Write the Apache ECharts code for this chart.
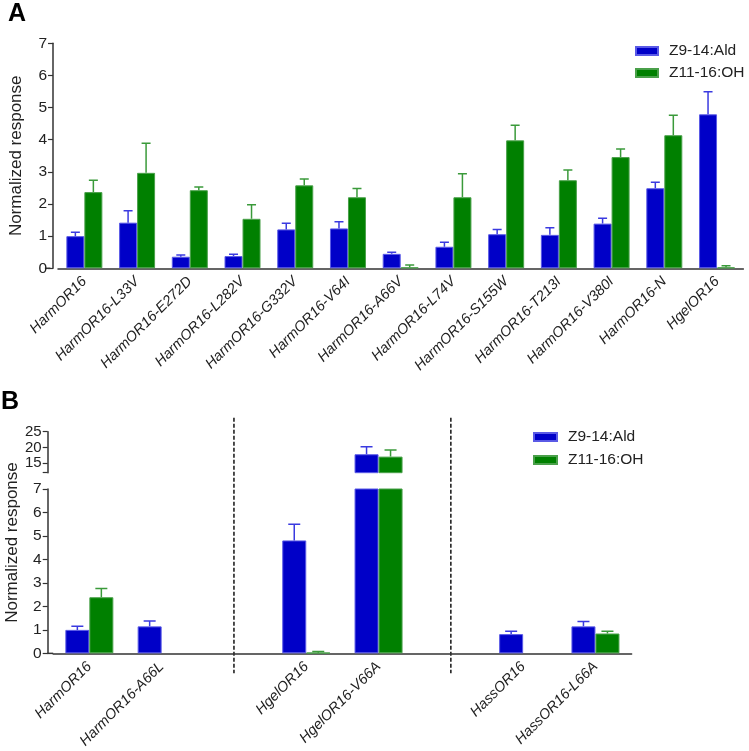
<!DOCTYPE html>
<html>
<head>
<meta charset="utf-8">
<script src="https://cdn.jsdelivr.net/npm/echarts@6/dist/echarts.min.js"></script>
<style>html,body{margin:0;padding:0;background:#fff}#c{width:749px;height:751px}</style>
</head>
<body>
<div id="c"></div>
<script>
// ---------- Data ----------
const seriesNames = ['Z9-14:Ald', 'Z11-16:OH'];

const categoriesA = ['HarmOR16','HarmOR16-L33V','HarmOR16-E272D','HarmOR16-L282V','HarmOR16-G332V','HarmOR16-V64I','HarmOR16-A66V','HarmOR16-L74V','HarmOR16-S155W','HarmOR16-T213I','HarmOR16-V380I','HarmOR16-N','HgelOR16'];
const aldA    = [1.00, 1.42, 0.36, 0.38, 1.21, 1.24, 0.45, 0.67, 1.06, 1.04, 1.39, 2.49, 4.79];
const aldErrA = [0.12, 0.37, 0.05, 0.06, 0.19, 0.21, 0.05, 0.14, 0.15, 0.22, 0.17, 0.19, 0.70];
const ohA     = [2.37, 2.97, 2.43, 1.54, 2.58, 2.21, 0.03, 2.21, 3.98, 2.74, 3.46, 4.14, 0.03];
const ohErrA  = [0.37, 0.92, 0.10, 0.44, 0.20, 0.27, 0.07, 0.73, 0.47, 0.32, 0.25, 0.62, 0.05];
const yTicksA = [0, 1, 2, 3, 4, 5, 6, 7];

const categoriesB = ['HarmOR16','HarmOR16-A66L',' ','HgelOR16','HgelOR16-V66A','  ','HassOR16','HassOR16-L66A'];
const gapIndexB   = [2, 5];
const aldB    = [1.00, 1.15, null, 4.81, 17.85, null, 0.82, 1.15];
const aldErrB = [0.15, 0.23, null, 0.69, 2.40,  null, 0.12, 0.21];
const ohB     = [2.39, null, null, 0.03, 17.10, null, null, 0.845];
const ohErrB  = [0.37, null, null, 0.05, 2.10,  null, null, 0.10];
const yLowB   = [0, 7];
const yHighB  = [12, 25];
const yHighLabelsB = [15, 20, 25];

// ---------- Styles ----------
const BLUE = '#0000C8', GREEN = '#008000';
const BLUE_ERR = '#3a3ae0', GREEN_ERR = '#3a9a3a';
const TXT = '#222';
const FONT = 'Liberation Sans, Arial, sans-serif';

const chart = echarts.init(document.getElementById('c'), null, {renderer: 'canvas'});

function errSeries(name, xi, yi, means, errs, sideSign, barW, capW, color) {
  const data = means.map((m, i) => (m == null || errs[i] == null) ? null : [i, m + errs[i], m]);
  return {
    type: 'custom', name: name, xAxisIndex: xi, yAxisIndex: yi, clip: true, z: 5,
    silent: true,
    data: data.filter(d => d),
    renderItem: function (params, api) {
      const i = api.value(0);
      const top = api.coord([i, api.value(1)]);
      const base = api.coord([i, api.value(2)]);
      const x = top[0] + sideSign * barW / 2;
      return {
        type: 'group',
        children: [
          {type: 'line', shape: {x1: x, y1: base[1], x2: x, y2: top[1]}, style: {stroke: color, lineWidth: 1.5}},
          {type: 'line', shape: {x1: x - capW / 2, y1: top[1], x2: x + capW / 2, y2: top[1]}, style: {stroke: color, lineWidth: 1.5}}
        ]
      };
    }
  };
}

function barSeries(name, xi, yi, data, color, border, w) {
  return {
    type: 'bar', name: name, xAxisIndex: xi, yAxisIndex: yi, data: data,
    barWidth: w, barGap: '0%',
    itemStyle: {color: color, borderColor: border, borderWidth: 1},
    emphasis: {disabled: true}
  };
}

const catAxisCommon = {
  type: 'category',
  axisLine: {lineStyle: {color: '#333', width: 1.5}},
  axisTick: {alignWithLabel: true, length: 5, lineStyle: {color: '#333', width: 1.2}},
  axisLabel: {rotate: 45, interval: 0, margin: 11, color: TXT, fontSize: 14.5, fontStyle: 'italic', fontFamily: FONT}
};
const valAxisCommon = {
  type: 'value',
  splitLine: {show: false},
  axisLine: {show: true, lineStyle: {color: '#333', width: 1.5}},
  axisTick: {show: true, length: 5, lineStyle: {color: '#333', width: 1.2}},
  axisLabel: {color: TXT, fontSize: 15.5, fontFamily: FONT, margin: 6}
};

const option = {
  animation: false,
  backgroundColor: '#fff',
  textStyle: {fontFamily: FONT},
  grid: [
    {left: 50.4, top: 43.3, width: 693, height: 225},
    {left: 53.2, top: 489, width: 578.4, height: 167.2},
    {left: 53.2, top: 431.7, width: 578.4, height: 41}
  ],
  legend: [
    {data: seriesNames, orient: 'vertical', left: 630, top: 38, itemWidth: 22, itemHeight: 8, itemGap: 6,
     icon: 'rect', textStyle: {fontSize: 15.5, color: TXT, fontFamily: FONT, padding: [0, 0, 0, 6]}, selectedMode: false},
    {data: seriesNames, orient: 'vertical', left: 528, top: 424, itemWidth: 23, itemHeight: 8, itemGap: 7,
     icon: 'rect', textStyle: {fontSize: 15.5, color: TXT, fontFamily: FONT, padding: [0, 0, 0, 6]}, selectedMode: false}
  ],
  xAxis: [
    Object.assign({}, catAxisCommon, {gridIndex: 0, data: categoriesA}),
    Object.assign({}, catAxisCommon, {gridIndex: 1, data: categoriesB,
      axisTick: Object.assign({}, catAxisCommon.axisTick, {interval: function (i) { return gapIndexB.indexOf(i) < 0; }})}),
    {type: 'category', gridIndex: 2, data: categoriesB, show: false}
  ],
  yAxis: [
    Object.assign({}, valAxisCommon, {gridIndex: 0, min: yTicksA[0], max: yTicksA[yTicksA.length - 1], interval: 1, offset: 5,
      name: 'Normalized response', nameLocation: 'middle', nameGap: 28,
      nameTextStyle: {fontSize: 17, color: TXT, fontFamily: FONT}}),
    Object.assign({}, valAxisCommon, {gridIndex: 1, min: yLowB[0], max: yLowB[1], interval: 1, offset: 5.5}),
    Object.assign({}, valAxisCommon, {gridIndex: 2, min: yHighB[0], max: yHighB[1], offset: 5.5,
      axisTick: Object.assign({}, valAxisCommon.axisTick, {customValues: [yHighB[0]].concat(yHighLabelsB)}),
      axisLabel: Object.assign({}, valAxisCommon.axisLabel, {customValues: yHighLabelsB, hideOverlap: false, fontSize: 15, lineHeight: 15})})
  ],
  series: [
    barSeries(seriesNames[0], 0, 0, aldA, BLUE, '#5a5ae6', 18),
    barSeries(seriesNames[1], 0, 0, ohA, GREEN, '#4aa04a', 18),
    errSeries('errA1', 0, 0, aldA, aldErrA, -1, 18, 9, BLUE_ERR),
    errSeries('errA2', 0, 0, ohA, ohErrA, 1, 18, 9, GREEN_ERR),

    barSeries(seriesNames[0], 1, 1, aldB, BLUE, '#5a5ae6', 24),
    barSeries(seriesNames[1], 1, 1, ohB, GREEN, '#4aa04a', 24),
    errSeries('errB1', 1, 1, aldB, aldErrB, -1, 24, 12, BLUE_ERR),
    errSeries('errB2', 1, 1, ohB, ohErrB, 1, 24, 12, GREEN_ERR),

    barSeries(seriesNames[0], 2, 2, aldB, BLUE, '#5a5ae6', 24),
    barSeries(seriesNames[1], 2, 2, ohB, GREEN, '#4aa04a', 24),
    errSeries('errC1', 2, 2, aldB, aldErrB, -1, 24, 12, BLUE_ERR),
    errSeries('errC2', 2, 2, ohB, ohErrB, 1, 24, 12, GREEN_ERR)
  ]
};
chart.setOption(option);

// decorations derived from the axes
const a0 = chart.convertToPixel({gridIndex: 0}, [0, 0]);
const b0 = chart.convertToPixel({gridIndex: 1}, [0, 0]);
const bTop = chart.convertToPixel({gridIndex: 2}, [0, yHighB[1]]);
const graphics = [
  {type: 'text', left: 8, top: 2, style: {text: 'A', font: 'bold 25px ' + FONT, fill: '#000'}},
  {type: 'text', left: 1, top: 390, style: {text: 'B', font: 'bold 25px ' + FONT, fill: '#000'}},
  {type: 'text', x: 12, y: (bTop[1] + b0[1]) / 2, rotation: Math.PI / 2,
   style: {text: 'Normalized response', font: '17px ' + FONT, fill: TXT, align: 'center', verticalAlign: 'middle'}},
  {type: 'line', shape: {x1: 50.4 - 5.5, y1: a0[1], x2: 50.4, y2: a0[1]}, style: {stroke: '#333', lineWidth: 1.5}},
  {type: 'line', shape: {x1: 53.2 - 6, y1: b0[1], x2: 53.2, y2: b0[1]}, style: {stroke: '#333', lineWidth: 1.5}}
];
gapIndexB.forEach(function (gi) {
  const p = chart.convertToPixel({gridIndex: 1}, [gi, 0]);
  graphics.push({type: 'line', shape: {x1: p[0], y1: bTop[1] - 14, x2: p[0], y2: p[1] + 20},
    style: {stroke: '#222', lineWidth: 1.6, lineDash: [4, 2]}});
});
chart.setOption({graphic: graphics});
</script>
</body>
</html>
